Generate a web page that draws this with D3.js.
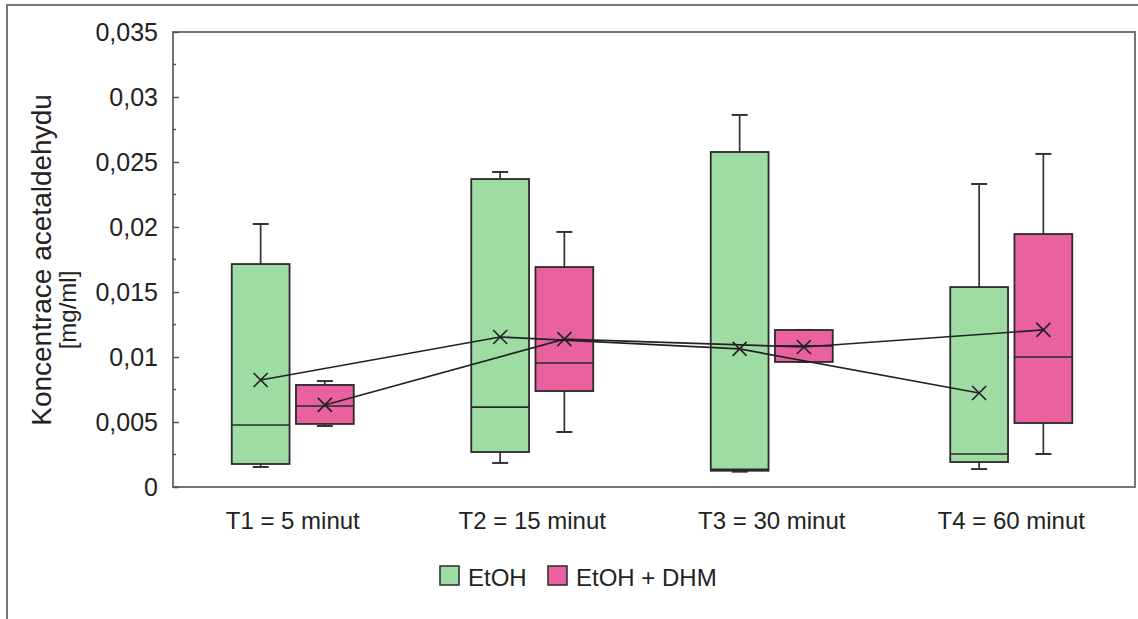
<!DOCTYPE html>
<html>
<head>
<meta charset="utf-8">
<script src="https://cdn.jsdelivr.net/npm/d3@7"></script>
<style>
  body { margin: 0; background: #fff; }
  svg text { font-family: "Liberation Sans", Arial, sans-serif; fill: #222; }
</style>
</head>
<body>
<svg id="chart" width="1138" height="619"></svg>
<script>
// categories and series
const categories = ["T1 = 5 minut", "T2 = 15 minut", "T3 = 30 minut", "T4 = 60 minut"]
const seriesNames = ["EtOH", "EtOH + DHM"]
const seriesColors = ["#9edca3", "#e9629f"]

// [whiskerLow, q1, median, q3, whiskerHigh] per category
const etohBoxes = [
  [0.00154, 0.00177, 0.00477, 0.01715, 0.02023],
  [0.00185, 0.00269, 0.00615, 0.02369, 0.02423],
  [0.00118, 0.00125, 0.00135, 0.02577, 0.02862],
  [0.00138, 0.00192, 0.00254, 0.01538, 0.02331]
]
const dhmBoxes = [
  [0.00469, 0.00485, 0.00623, 0.00785, 0.00815],
  [0.00423, 0.00738, 0.00954, 0.01692, 0.01962],
  [0.00962, 0.00962, 0.01085, 0.01208, 0.01208],
  [0.00254, 0.00492, 0.01000, 0.01946, 0.02562]
]
const etohMeans = [0.00823, 0.01154, 0.01062, 0.00723]
const dhmMeans = [0.00631, 0.01138, 0.01077, 0.01208]

const yTicks = [0, 0.005, 0.01, 0.015, 0.02, 0.025, 0.03, 0.035]

const svg = d3.select("#chart")
const plot = {left: 173, right: 1135, top: 32, bottom: 487}

const x = d3.scaleBand().domain(categories).range([plot.left, 1131])
const sub = d3.scaleBand().domain(seriesNames).range([-61, 61]).paddingInner(0.1)
const y = d3.scaleLinear().domain([0, 0.035]).range([plot.bottom, plot.top])

// outer frame
svg.append("rect")
  .attr("x", 7).attr("y", 5).attr("width", 1140).attr("height", 630)
  .attr("fill", "none").attr("stroke", "#777").attr("stroke-width", 2)

// plot frame
svg.append("rect")
  .attr("x", plot.left).attr("y", plot.top)
  .attr("width", plot.right - plot.left).attr("height", plot.bottom - plot.top)
  .attr("fill", "none").attr("stroke", "#666").attr("stroke-width", 1.8)

// y axis ticks (pointing inside), labels left
const fmt = d => d === 0 ? "0" : String(d).replace(".", ",")
const yAxis = d3.axisRight(y).tickValues(yTicks).tickSize(6).tickFormat("")
const yg = svg.append("g").attr("transform", `translate(${plot.left},0)`).call(yAxis)
yg.select(".domain").remove()
yg.selectAll("line").attr("stroke", "#555").attr("stroke-width", 1.5)
const minor = d3.range(0.0025, 0.035, 0.005)
svg.append("g").selectAll("line").data(minor).join("line")
  .attr("x1", plot.left).attr("x2", plot.left + 3)
  .attr("y1", d => y(d)).attr("y2", d => y(d))
  .attr("stroke", "#555").attr("stroke-width", 1.5)
svg.append("g").selectAll("text").data(yTicks).join("text")
  .attr("x", 158).attr("y", d => y(d) + 9)
  .attr("text-anchor", "end").style("font-size", "25px")
  .text(fmt)

// y title
svg.append("text")
  .attr("transform", "translate(51,260) rotate(-90)")
  .attr("text-anchor", "middle").style("font-size", "28px")
  .text("Koncentrace acetaldehydu")
svg.append("text")
  .attr("transform", "translate(76,310) rotate(-90)")
  .attr("text-anchor", "middle").style("font-size", "24px")
  .text("[mg/ml]")

// x labels
svg.append("g").selectAll("text").data(categories).join("text")
  .attr("x", d => x(d) + x.bandwidth() / 2)
  .attr("y", 529)
  .attr("text-anchor", "middle").style("font-size", "24px")
  .text(d => d)

// boxes
const allBoxes = [etohBoxes, dhmBoxes]
const allMeans = [etohMeans, dhmMeans]
const capW = 16

allBoxes.forEach((boxes, si) => {
  const g = svg.append("g")
  boxes.forEach((b, ci) => {
    const cx0 = x(categories[ci]) + x.bandwidth() / 2 + sub(seriesNames[si])
    const w = sub.bandwidth()
    const cx = cx0 + w / 2
    const bg = g.append("g")
    // whiskers
    bg.append("line").attr("x1", cx).attr("x2", cx).attr("y1", y(b[4])).attr("y2", y(b[3]))
      .attr("stroke", "#333").attr("stroke-width", 1.7)
    bg.append("line").attr("x1", cx).attr("x2", cx).attr("y1", y(b[1])).attr("y2", y(b[0]))
      .attr("stroke", "#333").attr("stroke-width", 1.7)
    bg.append("line").attr("x1", cx - capW / 2).attr("x2", cx + capW / 2).attr("y1", y(b[4])).attr("y2", y(b[4]))
      .attr("stroke", "#333").attr("stroke-width", 2)
    bg.append("line").attr("x1", cx - capW / 2).attr("x2", cx + capW / 2).attr("y1", y(b[0])).attr("y2", y(b[0]))
      .attr("stroke", "#333").attr("stroke-width", 2)
    bg.append("rect")
      .attr("x", cx0).attr("y", y(b[3]))
      .attr("width", w).attr("height", y(b[1]) - y(b[3]))
      .attr("fill", seriesColors[si]).attr("stroke", "#2a2a2a").attr("stroke-width", 1.8)
    bg.append("line").attr("x1", cx0).attr("x2", cx0 + w).attr("y1", y(b[2])).attr("y2", y(b[2]))
      .attr("stroke", "#2a2a2a").attr("stroke-width", 1.7)
  })
})

// mean lines and markers
allMeans.forEach((means, si) => {
  const pts = means.map((m, ci) => [x(categories[ci]) + x.bandwidth() / 2 + sub(seriesNames[si]) + sub.bandwidth() / 2, y(m)])
  svg.append("path")
    .attr("d", d3.line()(pts))
    .attr("fill", "none").attr("stroke", "#222").attr("stroke-width", 1.7)
  const s = 7
  svg.append("g").selectAll("path").data(pts).join("path")
    .attr("d", p => `M${p[0] - s},${p[1] - s}L${p[0] + s},${p[1] + s}M${p[0] - s},${p[1] + s}L${p[0] + s},${p[1] - s}`)
    .attr("stroke", "#222").attr("stroke-width", 1.7)
})

// legend
const legendX = [440, 548]
seriesNames.forEach((name, i) => {
  svg.append("rect")
    .attr("x", legendX[i]).attr("y", 566).attr("width", 19).attr("height", 19)
    .attr("fill", seriesColors[i]).attr("stroke", "#2a2a2a").attr("stroke-width", 1.5)
  svg.append("text")
    .attr("x", legendX[i] + 28).attr("y", 586)
    .style("font-size", "24px")
    .text(name)
})
</script>
</body>
</html>
